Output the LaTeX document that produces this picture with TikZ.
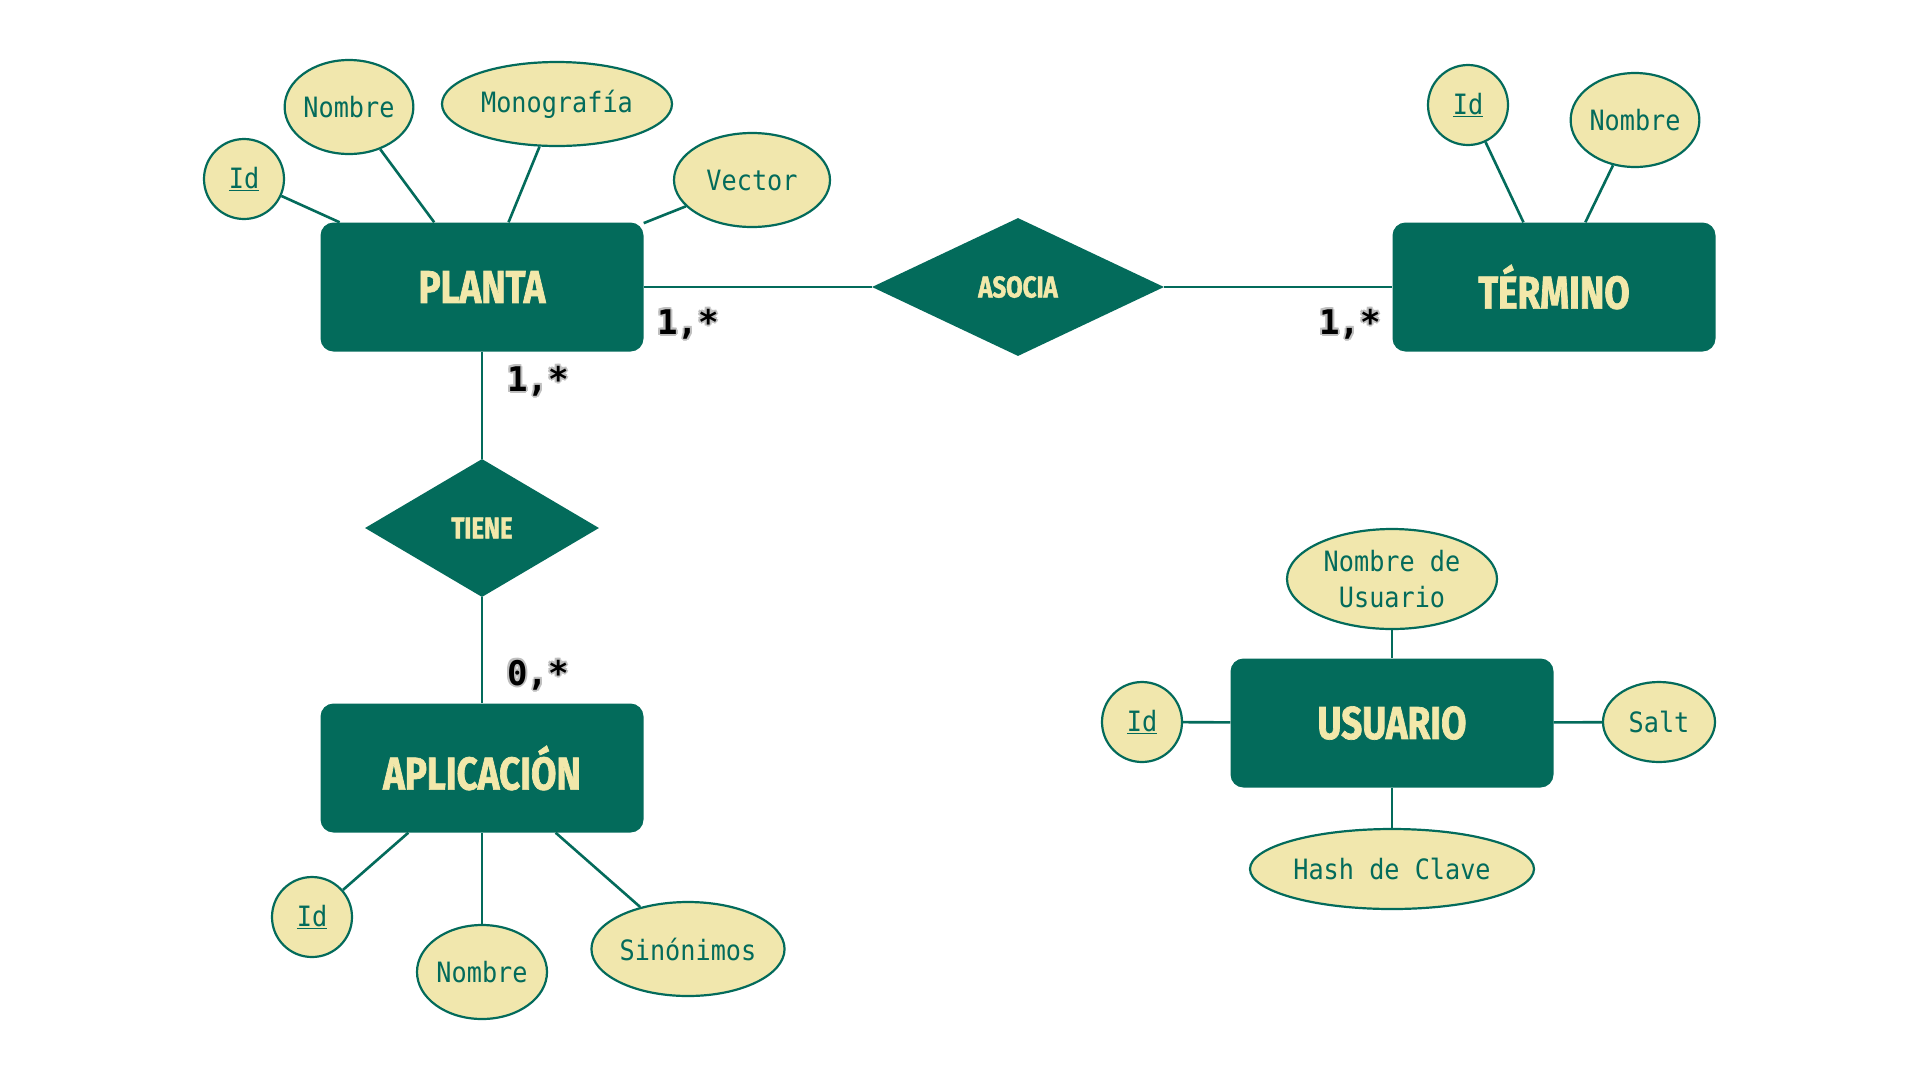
\documentclass[tikz,border=0pt]{standalone}
\usepackage{fontspec}
\usetikzlibrary{shapes.geometric}
\newfontfamily\attrfont[FakeStretch=0.9]{DejaVu Sans Mono}
\newfontfamily\titlefont[FakeStretch=0.8, BoldFeatures={FakeBold=1.5}]{Fira Sans}
\newfontfamily\cardfont{DejaVu Sans Mono}
\newcommand\halocard[1]{\leavevmode{\color{black!25}\rlap{\kern2.2pt #1}\rlap{\kern-2.2pt #1}\rlap{\raisebox{2.2pt}{#1}}\rlap{\raisebox{-2.2pt}{#1}}\rlap{\kern-1.6pt\raisebox{-1.6pt}{#1}}\rlap{\kern1.6pt\raisebox{-1.6pt}{#1}}\rlap{\kern-1.6pt\raisebox{1.6pt}{#1}}\rlap{\kern1.6pt\raisebox{1.6pt}{#1}}}#1}
\definecolor{dkgreen}{HTML}{036B5B}
\definecolor{cream}{HTML}{F1E7AD}
\definecolor{titlecol}{HTML}{F2E8AA}
\tikzset{
  entity/.style={rectangle, rounded corners=13pt, fill=dkgreen, draw=none,
    minimum width=323pt, minimum height=129pt, inner sep=0pt,
    text=titlecol, font=\titlefont\bfseries\fontsize{46}{50}\selectfont},
  relation/.style={diamond, fill=dkgreen, draw=none, inner sep=0pt,
    text=titlecol, font=\titlefont\bfseries\fontsize{30}{34}\selectfont},
  attr/.style={ellipse, fill=cream, draw=dkgreen, line width=2.2pt, inner sep=0pt,
    text=dkgreen, font=\attrfont\fontsize{28}{36}\selectfont, align=center},
  link/.style={draw=dkgreen, line width=2.6pt},
  card/.style={text=black, font=\cardfont\bfseries\fontsize{34}{38}\selectfont, inner sep=0pt},
}
\begin{document}
\begin{tikzpicture}[x=1pt, y=-1pt]
\useasboundingbox[fill=white] (0,0) rectangle (1920,1080);

% entities
\node[entity] (planta) at (482,287) {PLANTA};
\node[entity] (termino) at (1554,287) {TÉRMINO};
\node[entity] (aplic) at (482,768) {APLICACIÓN};
\node[entity] (usuario) at (1392,723) {USUARIO};

% relations
\node[relation, minimum width=292pt, minimum height=138pt] (asocia) at (1018,287) {ASOCIA};
\node[relation, minimum width=234pt, minimum height=138pt] (tiene) at (482,528) {TIENE};

% attributes PLANTA
\node[attr, minimum width=80pt, minimum height=80pt] (pid) at (244,179) {\underline{Id}};
\node[attr, minimum width=126pt, minimum height=94pt] (pnom) at (349,107) {Nombre};
\node[attr, minimum width=230pt, minimum height=84pt] (pmono) at (557,104) {Monografía};
\node[attr, minimum width=156pt, minimum height=94pt] (pvec) at (752,180) {Vector};

% attributes TERMINO
\node[attr, minimum width=80pt, minimum height=80pt] (tid) at (1468,105) {\underline{Id}};
\node[attr, minimum width=128pt, minimum height=94pt] (tnom) at (1635,120) {Nombre};

% attributes APLICACION
\node[attr, minimum width=80pt, minimum height=80pt] (aid) at (312,917) {\underline{Id}};
\node[attr, minimum width=130pt, minimum height=94pt] (anom) at (482,972) {Nombre};
\node[attr, minimum width=180pt, minimum height=94pt] (asin) at (688,949) {Sinónimos};

% attributes USUARIO
\node[attr, minimum width=210pt, minimum height=100pt] (unom) at (1392,579) {Nombre de\\Usuario};
\node[attr, minimum width=80pt, minimum height=80pt] (uid) at (1142,722) {\underline{Id}};
\node[attr, minimum width=112pt, minimum height=80pt] (usalt) at (1659,722) {Salt};
\node[attr, minimum width=284pt, minimum height=80pt] (uhash) at (1392,869) {Hash de Clave};

% connectors
\draw[link] (pid) -- (planta);
\draw[link] (pnom) -- (planta);
\draw[link] (pmono) -- (planta);
\draw[link] (pvec) -- (planta);
\draw[link] (tid) -- (termino);
\draw[link] (tnom) -- (termino);
\draw[link] (aid) -- (aplic);
\draw[link] (anom) -- (aplic);
\draw[link] (asin) -- (aplic);
\draw[link] (unom) -- (usuario);
\draw[link] (uid) -- (usuario);
\draw[link] (usalt) -- (usuario);
\draw[link] (uhash) -- (usuario);
\draw[link] (planta.east) -- (asocia.west);
\draw[link] (asocia.east) -- (termino.west);
\draw[link] (planta.south) -- (tiene.north);
\draw[link] (tiene.south) -- (aplic.north);

% cardinalities
\node[card] (c1) at (688,324) {\halocard{1,*}};
\node[card] (c2) at (1350,324) {\halocard{1,*}};
\node[card] (c3) at (538,381) {\halocard{1,*}};
\node[card] (c4) at (538,675) {\halocard{0,*}};
\end{tikzpicture}
\end{document}
